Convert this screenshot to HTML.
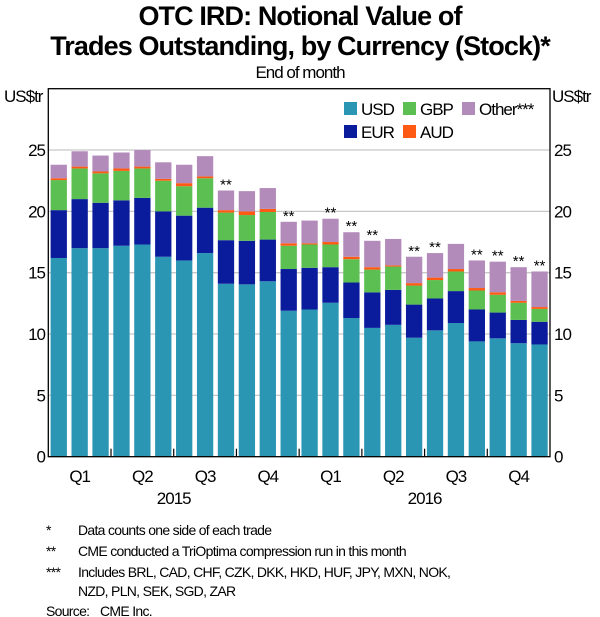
<!DOCTYPE html>
<html><head><meta charset="utf-8"><style>
body{margin:0;background:#fff;}
svg{display:block;font-family:"Liberation Sans",Arial,sans-serif;}
.t{font-weight:bold;font-size:27px;letter-spacing:-0.9px;}
.n{font-size:17px;letter-spacing:-1px;}
.f{font-size:14px;letter-spacing:-0.7px;}
</style></head><body>
<svg id="chart" width="600" height="617" viewBox="0 0 600 617" xmlns="http://www.w3.org/2000/svg">
<text class="t" x="300" y="25" text-anchor="middle">OTC IRD: Notional Value of</text>
<text class="t" x="300" y="55" text-anchor="middle">Trades Outstanding, by Currency (Stock)*</text>
<text class="n" x="300" y="78" text-anchor="middle">End of month</text>
<text class="n" x="4" y="102">US$tr</text>
<text class="n" x="552" y="102">US$tr</text>
<g id="grid"></g>
<g id="bars"></g>
<g id="axes"></g>
<rect x="48.3" y="88.7" width="501.7" height="368" fill="none" stroke="#000" stroke-width="1.3"/>
<g>
<rect x="344" y="102" width="13" height="13" fill="#2a96b4"/>
<text class="n" x="361" y="115">USD</text>
<rect x="403" y="102" width="13" height="13" fill="#5bbf52"/>
<text class="n" x="420" y="115">GBP</text>
<rect x="462" y="102" width="13" height="13" fill="#b38bbb"/>
<text class="n" x="479" y="115">Other***</text>
<rect x="344" y="125" width="13" height="13" fill="#0a1b9c"/>
<text class="n" x="361" y="138">EUR</text>
<rect x="403" y="125" width="13" height="13" fill="#ff5a13"/>
<text class="n" x="420" y="138">AUD</text>
</g>
<g>
<text class="f" x="46" y="535">*</text>
<text class="f" x="78" y="535">Data counts one side of each trade</text>
<text class="f" x="46" y="556">**</text>
<text class="f" x="78" y="556">CME conducted a TriOptima compression run in this month</text>
<text class="f" x="46" y="577">***</text>
<text class="f" x="78" y="577">Includes BRL, CAD, CHF, CZK, DKK, HKD, HUF, JPY, MXN, NOK,</text>
<text class="f" x="78" y="596">NZD, PLN, SEK, SGD, ZAR</text>
<text class="f" x="46" y="616">Source:</text>
<text class="f" x="100" y="616">CME Inc.</text>
</g>
</svg>
<script>
const months = ["2015-01","2015-02","2015-03","2015-04","2015-05","2015-06","2015-07","2015-08","2015-09","2015-10","2015-11","2015-12","2016-01","2016-02","2016-03","2016-04","2016-05","2016-06","2016-07","2016-08","2016-09","2016-10","2016-11","2016-12"];
const usd   = [16.2,17.0,17.0,17.2,17.3,16.3,16.0,16.6,14.1,14.05,14.3,11.9,12.0,12.55,11.3,10.5,10.75,9.7,10.3,10.9,9.4,9.65,9.25,9.15];
const eur   = [3.9,4.0,3.7,3.7,3.8,3.7,3.65,3.7,3.55,3.55,3.4,3.4,3.4,2.9,2.9,2.9,2.85,2.7,2.6,2.6,2.6,2.1,1.9,1.85];
const gbp   = [2.45,2.5,2.4,2.4,2.4,2.5,2.4,2.4,2.25,2.1,2.25,1.9,1.9,1.85,1.9,1.85,1.9,1.55,1.5,1.6,1.55,1.45,1.4,1.05];
const aud   = [0.15,0.15,0.15,0.2,0.15,0.15,0.25,0.15,0.2,0.3,0.25,0.2,0.1,0.2,0.2,0.2,0.1,0.2,0.2,0.2,0.2,0.2,0.15,0.15];
const other = [1.1,1.25,1.3,1.3,1.35,1.35,1.5,1.65,1.6,1.65,1.7,1.75,1.85,1.9,2.0,2.15,2.15,2.15,2.0,2.05,2.25,2.5,2.75,2.9];
const compression = [0,0,0,0,0,0,0,0,1,0,0,1,0,1,1,1,0,1,1,0,1,1,1,1];
const yTicks = [0,5,10,15,20,25];
const quarterLabels = ["Q1","Q2","Q3","Q4","Q1","Q2","Q3","Q4"];
const yearLabels = ["2015","2016"];

const NS="http://www.w3.org/2000/svg";
const L=48.3,R=550,T=88.7,B=456.7,YMAX=30;
const slot=(R-L)/months.length;
const y=v=>B-(v/YMAX)*(B-T);
const x=i=>L+slot*i;
function mk(tag,attrs,parent,txt){const e=document.createElementNS(NS,tag);for(const k in attrs)e.setAttribute(k,attrs[k]);if(txt!==undefined)e.textContent=txt;parent.appendChild(e);return e;}
const grid=document.getElementById('grid'),bars=document.getElementById('bars'),axes=document.getElementById('axes');
yTicks.forEach(t=>{
  if(t>0){const g=mk('line',{x1:L,x2:R,y1:y(t),y2:y(t),stroke:'#c8c8c8','stroke-width':1.3},grid);
  
  }
  const a=mk('text',{x:45,y:y(t)+6,'text-anchor':'end',class:'n'},axes,String(t));
  
  
  const b=mk('text',{x:554,y:y(t)+6,class:'n'},axes,String(t));
  
  
});
const series=[["usd",usd,"#2a96b4"],["eur",eur,"#0a1b9c"],["gbp",gbp,"#5bbf52"],["aud",aud,"#ff5a13"],["other",other,"#b38bbb"]];
const bw=slot*0.78;
months.forEach((m,i)=>{
  let base=0;
  const bx=x(i)+(slot-bw)/2;
  series.forEach(([nm,arr,col])=>{
    const v=arr[i];
    const r=mk('rect',{x:bx,y:y(base+v),width:bw,height:y(base)-y(base+v),fill:col},bars);
    
    
    base+=v;
  });
  if(compression[i]){
    const s=mk('text',{x:bx+bw/2,y:y(base)-1,'text-anchor':'middle',style:'font-size:15px'},bars,'**');
    
    
  }
});
for(let q=1;q<8;q++){
  const t=mk('line',{x1:x(q*3),x2:x(q*3),y1:B,y2:B-8,stroke:'#000','stroke-width':1.2},axes);
  
  
}
quarterLabels.forEach((q,i)=>{
  const t=mk('text',{x:x(i*3+1.5),y:482,'text-anchor':'middle',class:'n'},axes,q);
  
  
});
yearLabels.forEach((yr,i)=>{
  const t=mk('text',{x:x(i*12+6),y:504,'text-anchor':'middle',class:'n'},axes,yr);
  
  
});
</script>
</body></html>
